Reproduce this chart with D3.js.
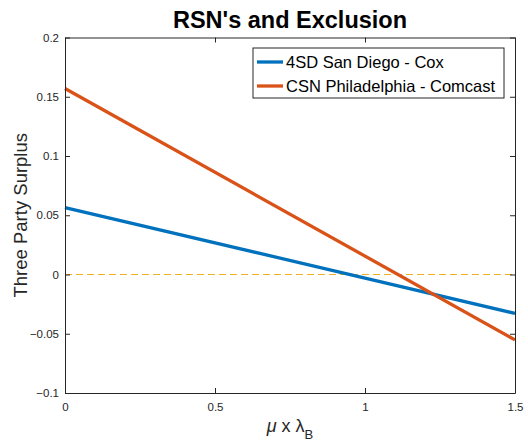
<!DOCTYPE html>
<html>
<head>
<meta charset="utf-8">
<script src="https://cdn.jsdelivr.net/npm/d3@7"></script>
<style>
  body { margin: 0; background: #fff; }
  text { font-family: "Liberation Sans", Arial, sans-serif; }
</style>
</head>
<body>
<div id="chart"></div>
<script>
// x values (mu x lambda_B) and the two surplus lines
const xVals = [0, 1.5];
const sanDiego = [0.0565, -0.0328];
const philly = [0.157, -0.0552];
const seriesNames = ["4SD San Diego - Cox", "CSN Philadelphia - Comcast"];
const seriesColors = ["#0072BD", "#D95319"];
const xTicks = [0, 0.5, 1, 1.5];
const yTicks = [-0.1, -0.05, 0, 0.05, 0.1, 0.15, 0.2];

const W = 528, H = 441;
const margin = {top: 37.5, right: 13, bottom: 48, left: 65};
const iw = W - margin.left - margin.right;
const ih = H - margin.top - margin.bottom;

const svg = d3.select("#chart").append("svg")
    .attr("width", W)
    .attr("height", H);

const g = svg.append("g")
    .attr("transform", `translate(${margin.left},${margin.top})`);

const x = d3.scaleLinear().domain([0, 1.5]).range([0, iw]);
const y = d3.scaleLinear().domain([-0.1, 0.2]).range([ih, 0]);

// zero reference line (dashed)
g.append("line")
    .attr("x1", x(0)).attr("x2", x(1.5))
    .attr("y1", y(0)).attr("y2", y(0))
    .attr("stroke", "#EDB120")
    .attr("stroke-width", 1.2)
    .attr("stroke-dasharray", "7,4");

// lines
const line = d3.line()
    .x((d, i) => x(xVals[i]))
    .y(d => y(d));

[sanDiego, philly].forEach((s, k) => {
  g.append("path")
      .datum(s)
      .attr("fill", "none")
      .attr("stroke", seriesColors[k])
      .attr("stroke-width", 3.3)
      .attr("d", line);
});

// axes - MATLAB style box with inward ticks
const axisColor = "#262626";
const fmt = d => d3.format("")(+d.toFixed(2));

const axB = g.append("g")
    .attr("transform", `translate(0,${ih})`)
    .call(d3.axisBottom(x).tickValues(xTicks).tickSizeInner(-5).tickSizeOuter(0).tickPadding(10).tickFormat(fmt));
const axT = g.append("g")
    .call(d3.axisTop(x).tickValues(xTicks).tickSizeInner(-5).tickSizeOuter(0).tickFormat(""));
const axL = g.append("g")
    .call(d3.axisLeft(y).tickValues(yTicks).tickSizeInner(-5).tickSizeOuter(0).tickPadding(6).tickFormat(fmt));
const axR = g.append("g")
    .attr("transform", `translate(${iw},0)`)
    .call(d3.axisRight(y).tickValues(yTicks).tickSizeInner(-5).tickSizeOuter(0).tickFormat(""));

[axB, axT, axL, axR].forEach(a => {
  a.selectAll("path").attr("stroke", axisColor);
  a.selectAll("line").attr("stroke", axisColor);
  a.selectAll("text")
      .attr("fill", axisColor)
      .style("font-size", "11.5px")
      .style("font-family", "'Liberation Sans', Arial, sans-serif");
});

// title
svg.append("text")
    .attr("x", margin.left + iw / 2)
    .attr("y", 28)
    .attr("text-anchor", "middle")
    .style("font-size", "23.5px")
    .style("font-weight", "bold")
    .attr("fill", "#000")
    .text("RSN's and Exclusion");

// y label
svg.append("text")
    .attr("transform", `translate(27,${margin.top + ih / 2}) rotate(-90)`)
    .attr("text-anchor", "middle")
    .style("font-size", "18.5px")
    .attr("fill", axisColor)
    .text("Three Party Surplus");

// x label: mu x lambda_B
const xl = svg.append("text")
    .attr("x", margin.left + iw / 2)
    .attr("y", 432)
    .attr("text-anchor", "middle")
    .style("font-size", "18px")
    .attr("fill", axisColor);
xl.append("tspan").style("font-style", "italic").text("μ");
xl.append("tspan").text(" x λ");
xl.append("tspan").attr("dy", 7).style("font-size", "13px").text("B");

// legend
const lg = svg.append("g").attr("transform", "translate(253,48)");
lg.append("rect")
    .attr("width", 251).attr("height", 50)
    .attr("fill", "#fff")
    .attr("stroke", axisColor)
    .attr("stroke-width", 1);
seriesNames.forEach((name, i) => {
  const cy = 14 + i * 24;
  lg.append("line")
      .attr("x1", 4).attr("x2", 30)
      .attr("y1", cy).attr("y2", cy)
      .attr("stroke", seriesColors[i])
      .attr("stroke-width", 3.3);
  lg.append("text")
      .attr("x", 33).attr("y", cy + 6)
      .style("font-size", "16.5px")
      .attr("fill", "#000")
      .text(name);
});
</script>
</body>
</html>
